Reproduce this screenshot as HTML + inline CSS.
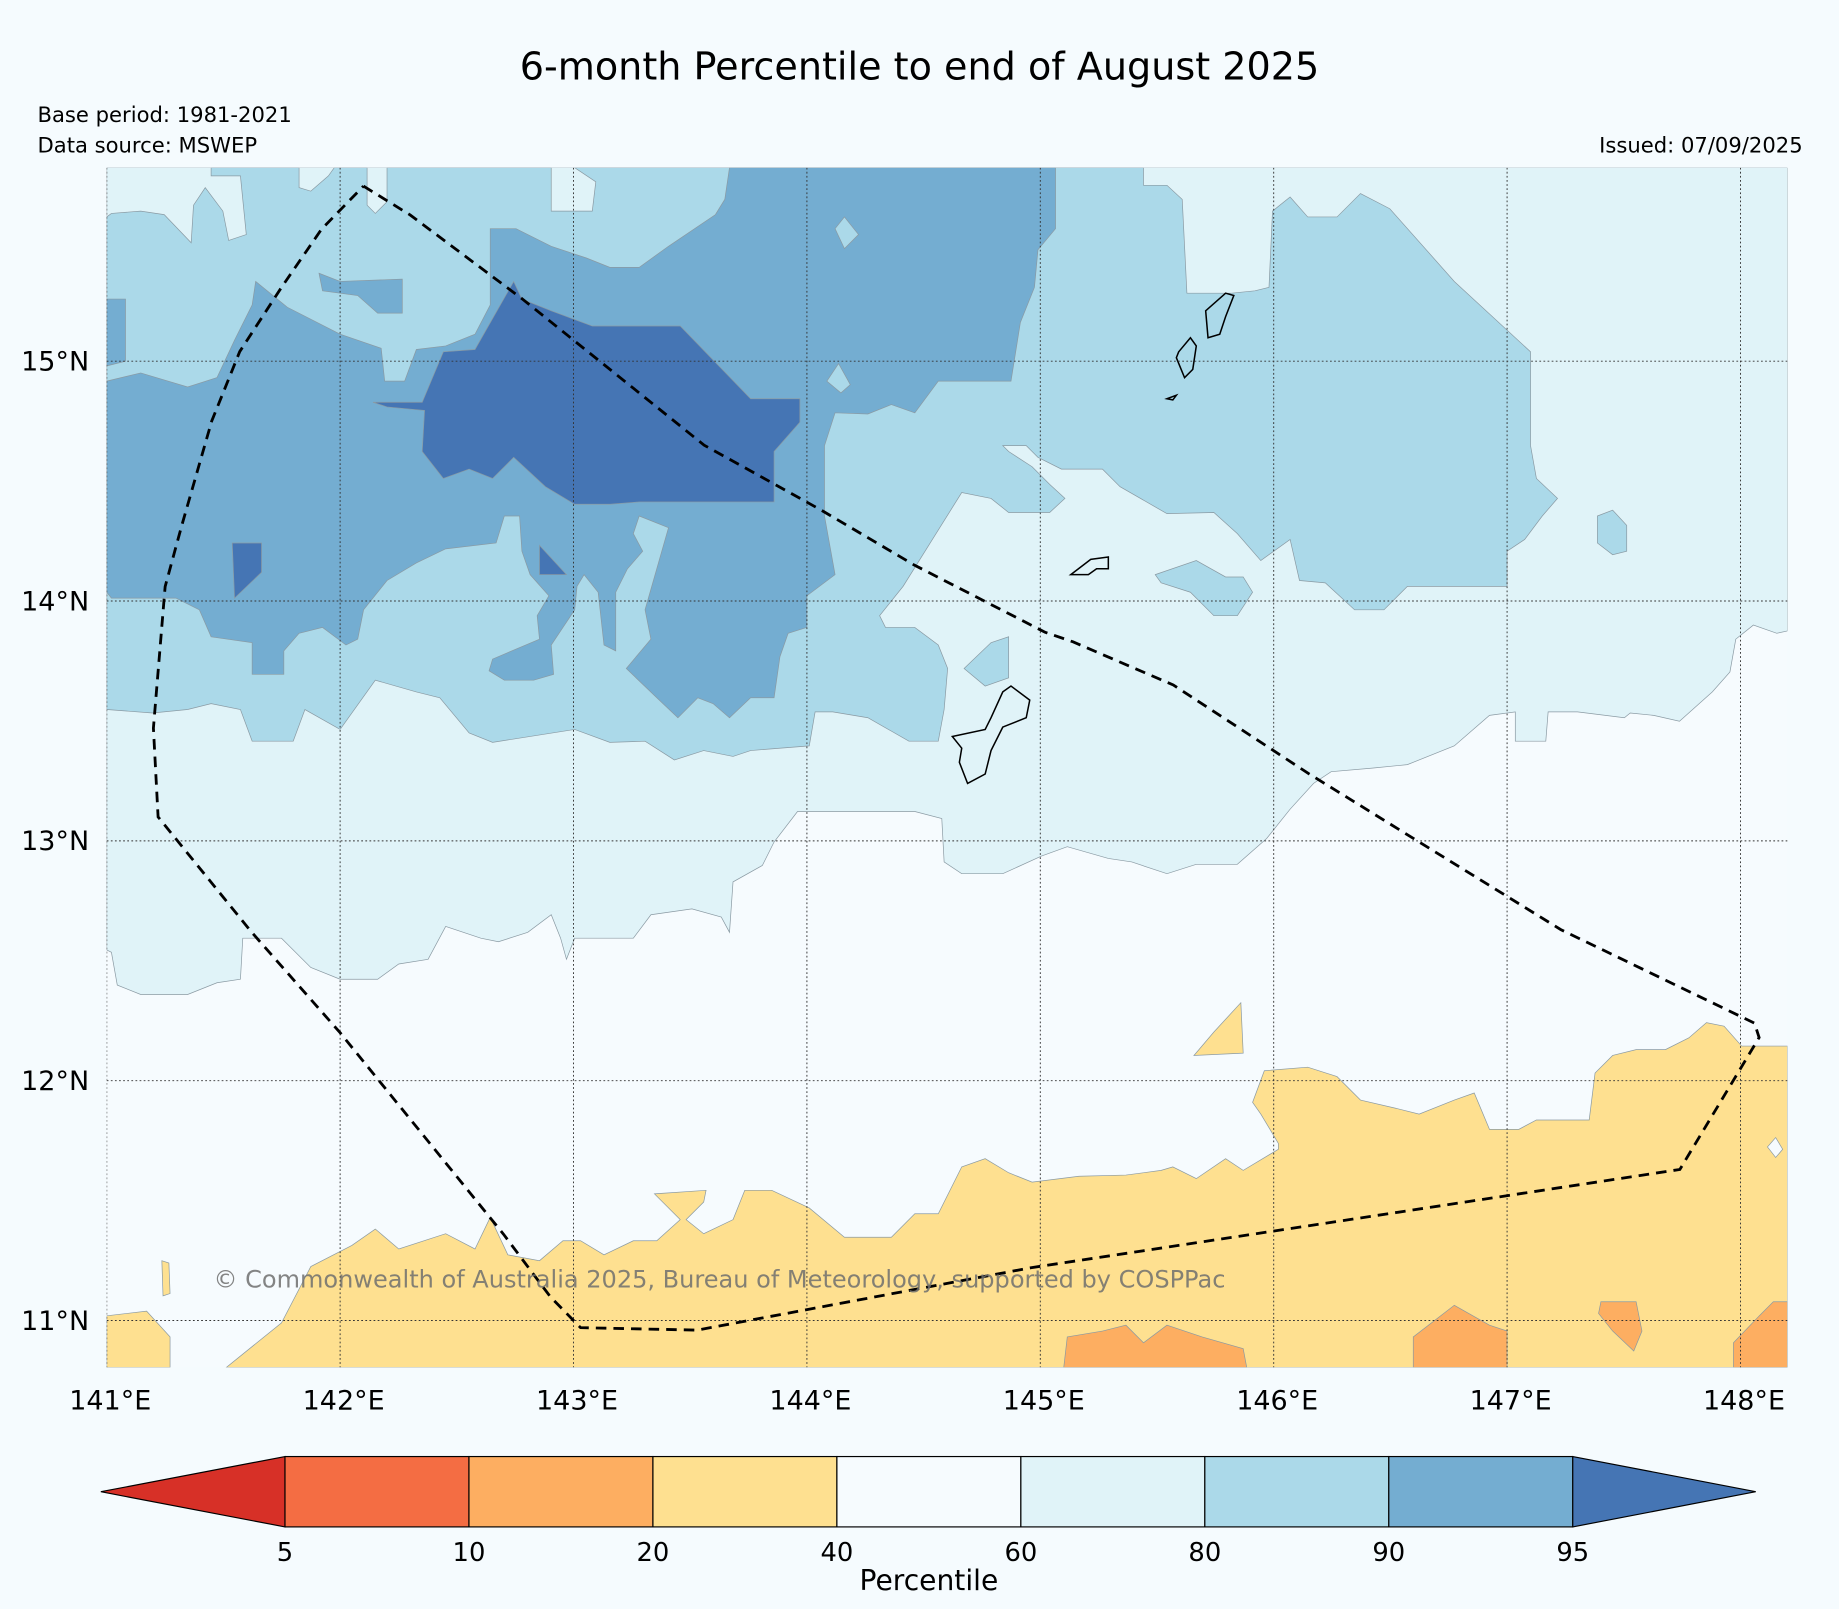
<!DOCTYPE html>
<html><head><meta charset="utf-8">
<style>
html,body{margin:0;padding:0;background:#f5fbfe;}
svg{display:block;}
text{font-family:"DejaVu Sans","Liberation Sans",sans-serif;}
</style></head>
<body>
<svg id="chart" width="1839" height="1609" viewBox="0 0 1568 1372" preserveAspectRatio="none" xmlns="http://www.w3.org/2000/svg">
<rect x="0" y="0" width="1568" height="1372" fill="#f5fbfe"/>
<text x="784" y="68" text-anchor="middle" font-size="32.5" fill="#000">6-month Percentile to end of August 2025</text>
<text x="32" y="104" font-size="18" fill="#000">Base period: 1981-2021</text>
<text x="32" y="130" font-size="18" fill="#000">Data source: MSWEP</text>
<text x="1537" y="130" text-anchor="end" font-size="18" fill="#000">Issued: 07/09/2025</text>
<defs><clipPath id="mapclip"><rect x="91" y="143" width="1433" height="1023"/></clipPath></defs>
<g id="map" clip-path="url(#mapclip)">
<rect x="91" y="143" width="1433" height="1023" fill="#f6fbfe"/>
<g stroke="#8a9aa3" stroke-width="0.6">
<polygon fill="#e0f3f8" points="91,143 1524,143 1524,538 1515,540 1495,533 1480,545 1475,573 1460,590 1432,615 1410,610 1390,608 1385,612 1345,607 1320,607 1318,632 1292,632 1292,607 1270,610 1240,636 1200,652 1170,655 1135,658 1120,668 1100,690 1080,715 1055,737 1020,737 995,745 965,735 945,732 910,722 888,730 855,745 820,745 805,735 803,698 780,692 680,692 660,718 650,738 625,752 622,795 615,782 590,775 555,780 540,800 490,800 483,818 478,800 470,780 450,795 425,803 410,800 380,790 365,818 340,822 322,835 290,835 265,825 240,800 207,800 205,835 185,838 160,848 120,848 100,840 95,812 91,810"/>
<polygon fill="#abd9e9" points="91,185 95,182 120,180 140,183 163,207 165,175 175,160 190,180 195,205 210,200 205,150 180,150 180,143 255,143 255,160 265,163 280,150 285,143 313,143 313,175 320,182 330,172 330,143 470,143 470,180 505,180 508,155 490,143 975,143 975,158 995,158 1008,170 1012,250 1050,250 1070,248 1082,245 1085,180 1100,168 1115,185 1140,185 1160,165 1185,178 1240,240 1305,300 1305,380 1310,408 1328,425 1315,440 1300,460 1285,470 1285,500 1200,500 1180,520 1155,520 1130,497 1108,495 1100,460 1075,478 1055,455 1035,437 995,438 955,415 940,400 905,400 885,390 875,380 855,380 860,385 880,398 895,413 908,425 895,437 860,437 845,425 820,420 795,460 770,500 750,525 755,535 780,535 800,550 808,570 805,605 800,632 775,632 740,612 710,607 695,607 690,636 640,640 625,645 600,640 575,648 550,632 520,633 490,622 420,633 400,625 375,595 355,590 320,580 290,622 260,605 250,632 215,632 205,605 180,600 160,605 130,608 91,605"/>
<polygon fill="#abd9e9" points="985,490 1020,478 1045,492 1060,492 1068,505 1055,525 1035,525 1015,505 990,497"/>
<polygon fill="#abd9e9" points="1362,440 1375,435 1387,448 1387,470 1375,473 1362,463"/>
<polygon fill="#abd9e9" points="822,570 845,548 860,543 860,578 840,585"/>
<polygon fill="#74add1" points="91,325 120,318 160,330 185,322 200,290 215,260 218,240 245,262 290,285 325,297 328,325 345,325 355,298 380,295 405,285 418,260 418,195 440,195 470,210 500,220 520,228 545,228 570,210 610,183 618,170 622,143 900,143 900,195 885,213 882,245 870,275 862,325 800,325 780,352 760,345 740,353 712,352 703,380 703,440 712,490 688,508 688,535 672,540 665,560 660,595 640,595 622,612 608,600 595,595 578,612 560,595 534,570 555,545 550,520 570,450 545,440 540,455 548,470 535,485 525,505 525,555 515,550 510,505 498,490 492,500 490,520 480,535 470,550 472,575 455,580 430,580 417,572 420,562 460,545 458,525 468,508 452,490 445,470 443,440 430,440 423,463 380,468 355,480 330,495 310,520 305,545 295,550 275,535 255,540 242,555 242,575 215,575 215,548 180,543 170,520 150,510 95,510 91,505"/>
<polygon fill="#74add1" points="91,255 107,255 107,308 91,312"/>
<polygon fill="#74add1" points="272,233 290,240 343,238 343,267 322,267 305,252 275,248"/>
<polygon fill="#abd9e9" points="705,325 715,310 725,328 717,335"/>
<polygon fill="#abd9e9" points="712,195 720,185 732,200 720,212"/>
<polygon fill="#4575b4" points="318,343 360,343 378,300 405,298 438,240 445,255 470,265 505,278 580,278 640,340 682,340 682,360 660,385 660,428 545,428 520,430 490,430 465,415 438,390 420,408 400,400 378,408 360,385 362,350 330,347"/>
<polygon fill="#4575b4" points="198,463 223,463 223,488 200,510"/>
<polygon fill="#4575b4" points="460,465 483,490 460,490"/>
<polygon fill="#fee090" points="193,1166 240,1128 265,1080 300,1062 320,1048 340,1065 380,1052 405,1065 418,1038 433,1070 460,1075 480,1058 495,1058 515,1070 540,1058 560,1058 580,1040 558,1018 602,1015 600,1025 585,1040 600,1052 625,1040 635,1015 658,1015 690,1030 720,1055 760,1055 780,1035 800,1035 820,995 840,988 860,1000 880,1008 920,1003 960,1002 990,998 1000,995 1020,1005 1045,988 1060,998 1090,980 1090,975 1075,950 1068,940 1078,913 1115,910 1140,918 1160,938 1190,945 1210,950 1240,938 1257,932 1270,963 1295,963 1310,955 1355,955 1360,915 1375,900 1395,895 1420,895 1440,885 1455,872 1470,875 1485,892 1524,892 1524,1166"/>
<polygon fill="#fee090" points="91,1122 125,1118 145,1140 145,1166 91,1166"/>
<polygon fill="#fee090" points="1018,900 1035,880 1058,855 1060,898"/>
<polygon fill="#fee090" points="138,1075 144,1077 145,1103 139,1105"/>
<polygon fill="#f6fbfe" points="1507,978 1514,970 1520,980 1514,987"/>
<polygon fill="#fdae61" points="907,1166 910,1140 940,1135 960,1130 975,1145 995,1130 1025,1140 1060,1150 1063,1166"/>
<polygon fill="#fdae61" points="1205,1166 1205,1140 1240,1113 1270,1130 1285,1135 1285,1166"/>
<polygon fill="#fdae61" points="1365,1110 1395,1110 1400,1135 1393,1152 1375,1135 1363,1120"/>
<polygon fill="#fdae61" points="1478,1166 1478,1145 1500,1122 1512,1110 1524,1110 1524,1166"/>
</g>
<g fill="none" stroke="#000" stroke-width="1.3">
<polygon points="812,628 840,622 845,612 855,590 862,585 878,597 875,612 855,620 845,640 840,660 825,668 818,650 820,638"/>
<polygon points="913,490 930,477 945,475 945,485 935,485 928,490 920,490"/>
<polygon points="1028,265 1045,250 1052,252 1045,270 1040,285 1030,288"/>
<polygon points="1005,300 1015,288 1020,295 1017,315 1010,322 1003,305"/>
<polygon points="995,340 1003,337 1000,341"/>
</g>
<g id="grid"></g>
<path id="track" fill="none" stroke="#000" stroke-width="2.4" stroke-dasharray="9,6"/>
<text x="182" y="1098" font-size="20.5" fill="#6f6f6f" fill-opacity="0.85">© Commonwealth of Australia 2025, Bureau of Meteorology, supported by COSPPac</text>
</g>
<g id="ticks"></g>
<g id="cbar"></g>
<text x="792" y="1356" text-anchor="middle" font-size="24" fill="#000">Percentile</text>
</svg>
<script>
const lonTicks = [141,142,143,144,145,146,147,148];
const latTicks = [15,14,13,12,11];
const cbarLevels = [5,10,20,40,60,80,90,95];
const cbarColors = ['#f46d43','#fdae61','#fee090','#f6fbfe','#e0f3f8','#abd9e9','#74add1'];
const trackLon = [142.10,142.30,142.78,143.56,144.06,144.46,145.02,145.14,145.57,146.15,147.23,148.06,148.08,147.74,146.32,144.96,143.53,143.03,142.90,142.70,142.00,141.62,141.22,141.20,141.25,141.32,141.45,141.57,141.75,141.92,142.10];
const trackLat = [15.73,15.61,15.26,14.65,14.38,14.15,13.87,13.83,13.65,13.28,12.63,12.24,12.18,11.63,11.42,11.22,10.96,10.97,11.10,11.36,12.20,12.62,13.10,13.47,14.06,14.31,14.75,15.04,15.31,15.55,15.73];

const NS='http://www.w3.org/2000/svg';
function xOf(lon){return 91+199*(lon-141);}
function yOf(lat){return 308+204.5*(15-lat);}
function mk(tag,attrs,parent){const e=document.createElementNS(NS,tag);for(const k in attrs)e.setAttribute(k,attrs[k]);parent.appendChild(e);return e;}

const grid=document.getElementById('grid');
const ticks=document.getElementById('ticks');
lonTicks.forEach(lon=>{
  const l=mk('line',{x1:xOf(lon),x2:xOf(lon),y1:143,y2:1166,stroke:'#333','stroke-width':0.8,'stroke-dasharray':'1.5,2'},grid);
  
  
  const t=mk('text',{x:xOf(lon)+3,y:1202,'text-anchor':'middle','font-size':23},ticks);
  t.textContent=lon+'°E';
  
  
});
latTicks.forEach(lat=>{
  const l=mk('line',{x1:91,x2:1524,y1:yOf(lat),y2:yOf(lat),stroke:'#333','stroke-width':0.8,'stroke-dasharray':'1.5,2'},grid);
  
  
  const t=mk('text',{x:76,y:yOf(lat)+8,'text-anchor':'end','font-size':23},ticks);
  t.textContent=lat+'°N';
  
  
});

let d='';
trackLon.forEach((lon,i)=>{d+=(i?'L':'M')+xOf(lon).toFixed(1)+','+yOf(trackLat[i]).toFixed(1);});
document.getElementById('track').setAttribute('d',d);

const cb=document.getElementById('cbar');
const cx0=243,cw=(1341-243)/(cbarLevels.length-1),cy0=1242,ch=60;
const lt=mk('polygon',{points:`86,${cy0+ch/2} ${cx0},${cy0} ${cx0},${cy0+ch}`,fill:'#d73027',stroke:'#000','stroke-width':1},cb);


cbarColors.forEach((c,i)=>{
  const r=mk('rect',{x:cx0+i*cw,y:cy0,width:cw,height:ch,fill:c,stroke:'#000','stroke-width':1},cb);
  
  
});
const xe=cx0+cbarColors.length*cw;
const rt=mk('polygon',{points:`${xe},${cy0} 1497,${cy0+ch/2} ${xe},${cy0+ch}`,fill:'#4575b4',stroke:'#000','stroke-width':1},cb);


cbarLevels.forEach((v,i)=>{
  const t=mk('text',{x:cx0+i*cw,y:1331,'text-anchor':'middle','font-size':22},cb);
  t.textContent=v;
  
  
});
</script>
</body></html>
